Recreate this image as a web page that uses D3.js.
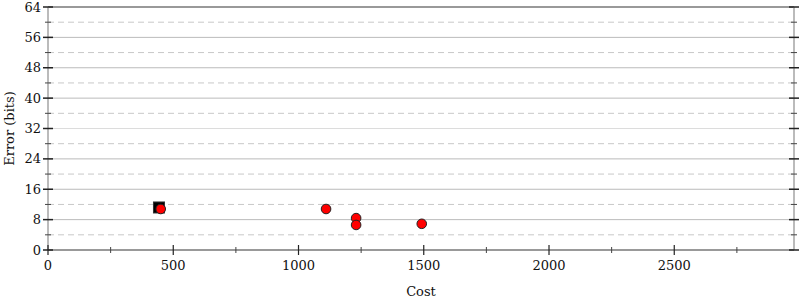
<!DOCTYPE html>
<html lang="en">
<head>
  <meta charset="utf-8">
  <title>Error vs Cost</title>
  <script src="https://d3js.org/d3.v7.min.js"></script>
  <style type="text/css">
    body { margin: 0; background: #fff; }
    text { font-family: "DejaVu Serif", serif; font-size: 13px; fill: #111; }
  </style>
</head>
<body>
  <script type="text/javascript">
    // data
    var squareCost = [443];
    var squareError = [11.2];
    var dotCost = [450, 1110, 1230, 1230, 1492];
    var dotError = [10.8, 10.8, 8.4, 6.6, 6.9];
    var yTicks = [0, 8, 16, 24, 32, 40, 48, 56, 64];
    var yMinorTicks = [4, 12, 20, 28, 36, 44, 52, 60];
    var xTicks = [0, 500, 1000, 1500, 2000, 2500];
    var xMinorTicks = [250, 750, 1250, 1750, 2250, 2750];

    var w = 800, h = 300;
    var margin = { top: 7, right: 6, bottom: 50, left: 48 };

    var svg = d3.select("body").append("svg")
      .attr("width", w)
      .attr("height", h);

    var x = d3.scaleLinear().domain([0, 2978]).range([margin.left, w - margin.right]);
    var y = d3.scaleLinear().domain([0, 64]).range([h - margin.bottom, margin.top]);

    // grid lines
    svg.selectAll(".minorgrid").data(yMinorTicks).enter().append("line")
      .attr("x1", x(0)).attr("x2", x(2978))
      .attr("y1", d => y(d)).attr("y2", d => y(d))
      .attr("stroke", "#c8c8c8").attr("stroke-dasharray", "6,4");
    svg.selectAll(".grid").data(yTicks.filter(d => d > 0 && d < 64)).enter().append("line")
      .attr("x1", x(0)).attr("x2", x(2978))
      .attr("y1", d => y(d)).attr("y2", d => y(d))
      .attr("stroke", d => d == 32 ? "#dcdcdc" : "#bbb");

    // top border
    svg.append("line")
      .attr("x1", x(0)).attr("x2", x(2978))
      .attr("y1", y(64)).attr("y2", y(64))
      .attr("stroke", "#999").attr("stroke-width", 2);

    // left and right axis lines
    [0, 2978].forEach(function (v) {
      svg.append("line")
        .attr("x1", x(v)).attr("x2", x(v))
        .attr("y1", y(0)).attr("y2", y(64))
        .attr("stroke", "#bbb").attr("stroke-width", 2);
    });

    // bottom axis line
    svg.append("line")
      .attr("x1", x(0)).attr("x2", x(2978))
      .attr("y1", y(0)).attr("y2", y(0))
      .attr("stroke", "#999").attr("stroke-width", 2);

    // y ticks, both sides
    [0, 2978].forEach(function (v) {
      svg.selectAll(null).data(yTicks).enter().append("line")
        .attr("x1", x(v) - 5).attr("x2", x(v) + 5)
        .attr("y1", d => y(d)).attr("y2", d => y(d))
        .attr("stroke", "#222").attr("stroke-width", 1.5);
      svg.selectAll(null).data(yMinorTicks).enter().append("line")
        .attr("x1", x(v) - 3).attr("x2", x(v) + 3)
        .attr("y1", d => y(d)).attr("y2", d => y(d))
        .attr("stroke", "#444");
    });

    svg.selectAll(".ylab").data(yTicks).enter().append("text")
      .attr("x", x(0) - 7).attr("y", d => y(d))
      .attr("dy", "0.35em")
      .attr("text-anchor", "end")
      .text(d => d);

    // x ticks
    svg.selectAll(".xt").data(xTicks).enter().append("line")
      .attr("x1", d => x(d)).attr("x2", d => x(d))
      .attr("y1", y(0) - 5).attr("y2", y(0) + 5)
      .attr("stroke", "#222").attr("stroke-width", 1.2);
    svg.selectAll(".xm").data(xMinorTicks).enter().append("line")
      .attr("x1", d => x(d)).attr("x2", d => x(d))
      .attr("y1", y(0) - 3).attr("y2", y(0) + 3)
      .attr("stroke", "#444");

    svg.selectAll(".xlab").data(xTicks).enter().append("text")
      .attr("x", d => x(d)).attr("y", y(0) + 20)
      .attr("text-anchor", "middle")
      .text(d => d);

    // axis titles
    svg.append("text")
      .attr("x", (x(0) + x(2978)) / 2).attr("y", 296)
      .attr("text-anchor", "middle")
      .text("Cost");
    svg.append("text")
      .attr("transform", "translate(14," + (y(32)) + ") rotate(-90)")
      .attr("text-anchor", "middle")
      .text("Error (bits)");

    // points
    svg.selectAll(".sq").data(squareCost).enter().append("rect")
      .attr("x", (d, i) => x(d) - 5.5)
      .attr("y", (d, i) => y(squareError[i]) - 5.5)
      .attr("width", 11).attr("height", 11)
      .attr("fill", "#000")
      .attr("stroke", "#333").attr("stroke-width", 1);

    svg.selectAll(".dot").data(dotCost).enter().append("circle")
      .attr("cx", d => x(d))
      .attr("cy", (d, i) => y(dotError[i]))
      .attr("r", 4.8)
      .attr("fill", "red")
      .attr("stroke", "#222").attr("stroke-width", 1);
  </script>
</body>
</html>
